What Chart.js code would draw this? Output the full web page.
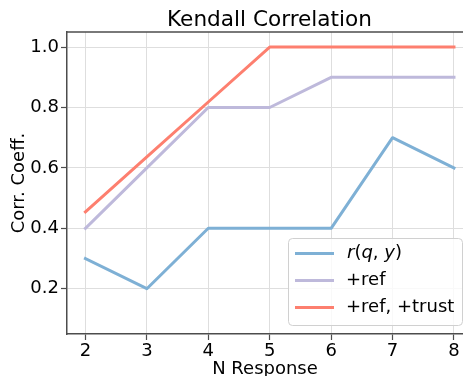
<!DOCTYPE html>
<html><head><meta charset="utf-8">
<script src="https://cdn.jsdelivr.net/npm/chart.js@4"></script>
<style>html,body{margin:0;padding:0;overflow:hidden;background:#fff}canvas{display:block}</style>
</head><body>
<canvas id="c" width="463" height="376"></canvas>
<script>
const nResponse = [2, 3, 4, 5, 6, 7, 8];
const rQY = [0.3, 0.2, 0.4, 0.4, 0.4, 0.7, 0.6];
const plusRef = [0.4, 0.6, 0.8, 0.8, 0.9, 0.9, 0.9];
const plusRefTrust = [0.4545, 0.6364, 0.8182, 1.0, 1.0, 1.0, 1.0];
const yTicks = [0.2, 0.4, 0.6, 0.8, 1.0];
const seriesLabels = ['r(q, y)', '+ref', '+ref, +trust'];
const seriesColors = ['#7eb0d5', '#beb9db', '#fd7f6f'];
const chartTitle = 'Kendall Correlation';
const xTitle = 'N Response';
const yTitle = 'Corr. Coeff.';

const FONT = "'DejaVu Sans', sans-serif";
const AXIS = '#4d4d4d';
const GRID = '#dedede';

function pts(ys) { return nResponse.map((x, i) => ({x: x, y: ys[i]})); }
const allSeries = [rQY, plusRef, plusRefTrust];

const overlay = {
  id: 'overlay',
  afterDraw(chart) {
    const ctx = chart.ctx, a = chart.chartArea;
    ctx.save();
    ctx.strokeStyle = AXIS; ctx.lineWidth = 1.5;
    ctx.beginPath(); ctx.moveTo(a.left, a.top); ctx.lineTo(chart.width, a.top); ctx.stroke();
    ctx.fillStyle = '#000';
    ctx.font = '21.6px ' + FONT;
    ctx.textAlign = 'center'; ctx.textBaseline = 'alphabetic';
    ctx.fillText(chartTitle, 269.5, 26);
    const bx = 288.5, by = 238.5, bw = 174, bh = 87;
    ctx.beginPath();
    ctx.roundRect(bx, by, bw, bh, 4);
    ctx.fillStyle = 'rgba(255,255,255,0.8)'; ctx.fill();
    ctx.strokeStyle = '#d0d0d0'; ctx.lineWidth = 1; ctx.stroke();
    const rows = [253.5, 280.5, 307.5];
    ctx.textAlign = 'left'; ctx.textBaseline = 'middle';
    seriesLabels.forEach((lab, i) => {
      const y = rows[i];
      ctx.strokeStyle = seriesColors[i]; ctx.lineWidth = 3; ctx.lineCap = 'butt';
      ctx.beginPath(); ctx.moveTo(295, y); ctx.lineTo(334, y); ctx.stroke();
      ctx.fillStyle = '#000';
      if (i === 0) {
        const parts = [['r', true], ['(', false], ['q', true], [', ', false], ['y', true], [')', false]];
        let x = 347;
        parts.forEach(([t, it]) => {
          ctx.font = (it ? 'italic ' : '') + '18px ' + FONT;
          ctx.fillText(t, x, y);
          x += ctx.measureText(t).width;
        });
      } else {
        ctx.font = '18px ' + FONT;
        ctx.fillText(lab, 346, y);
      }
    });
    ctx.restore();
  }
};

new Chart(document.getElementById('c'), {
  type: 'line',
  data: {
    datasets: allSeries.map((s, i) => ({
      label: seriesLabels[i],
      data: pts(s),
      borderColor: seriesColors[i],
      backgroundColor: seriesColors[i],
      borderWidth: 3,
      pointRadius: 0,
      tension: 0,
      borderCapStyle: 'square',
      borderJoinStyle: 'round',
      order: 3 - i
    }))
  },
  options: {
    responsive: false,
    animation: false,
    layout: {padding: {left: 0, right: 0, top: 32, bottom: -6}},
    plugins: {legend: {display: false}, tooltip: {enabled: false}, title: {display: false}},
    scales: {
      x: {
        type: 'linear', min: 1.7, max: 8.147,
        afterBuildTicks: s => { s.ticks = nResponse.map(v => ({value: v})); },
        afterFit: s => { s.height = 48; },
        grid: {color: GRID, lineWidth: 1, tickLength: 6, tickColor: AXIS, tickWidth: 1.2},
        border: {color: AXIS, width: 1.5},
        ticks: {color: '#000', font: {family: FONT, size: 18}, padding: 1, maxRotation: 0, autoSkip: false},
        title: {display: true, text: xTitle, color: '#000', font: {family: FONT, size: 18}, padding: {top: 0, bottom: 2}}
      },
      y: {
        type: 'linear', min: 0.05, max: 1.05,
        afterBuildTicks: s => { s.ticks = yTicks.map(v => ({value: v})); },
        afterFit: s => { s.width = 67; },
        grid: {color: GRID, lineWidth: 1, tickLength: 6, tickColor: AXIS, tickWidth: 1.2},
        border: {color: AXIS, width: 1.5},
        ticks: {color: '#000', font: {family: FONT, size: 18}, padding: 2, autoSkip: false,
                callback: v => v.toFixed(1)},
        title: {display: true, text: yTitle, color: '#000', font: {family: FONT, size: 18}, padding: {top: 9, bottom: 0}}
      }
    }
  },
  plugins: [overlay]
});
</script>
</body></html>
